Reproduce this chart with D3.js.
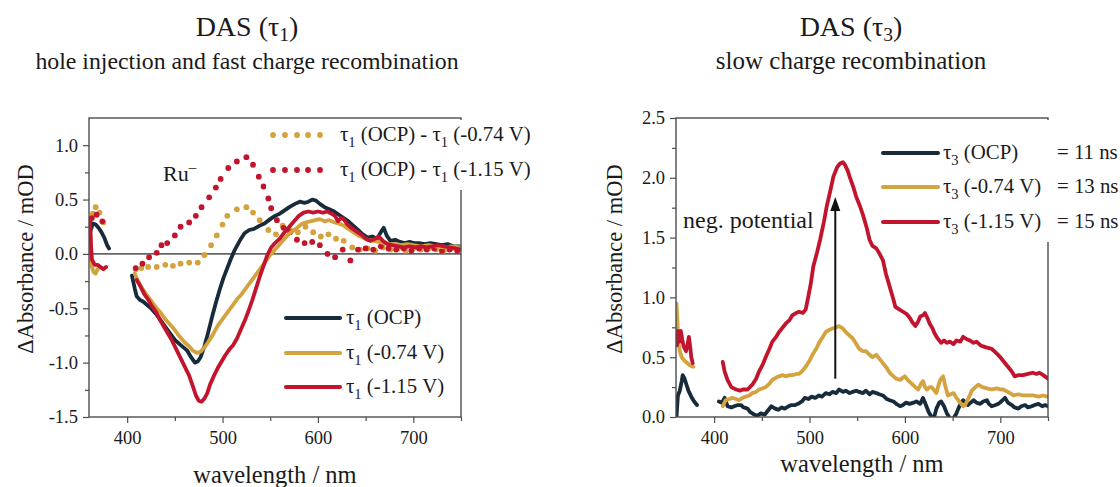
<!DOCTYPE html>
<html>
<head>
<meta charset="utf-8">
<script src="https://cdn.jsdelivr.net/npm/d3@7"></script>
<style>
body { margin: 0; background: #fff; }
text { font-family: "Liberation Serif", "DejaVu Serif", serif; fill: #1a1a1a; }
</style>
</head>
<body>
<div id="chart"></div>
<script>
// ---- data: left panel, DAS tau1 (wavelength nm, mOD) ----
var t1_ocp_a = [[362,0.22],[364,0.28],[367,0.27],[370,0.24],[373,0.2],[376,0.15],[379,0.08],[381,0.05]];
var t1_ocp_b = [[405,-0.2],[408,-0.32],[410,-0.39],[413,-0.42],[417,-0.44],[421,-0.47],[425,-0.5],[430,-0.55],[435,-0.61],[440,-0.67],[445,-0.73],[450,-0.79],[455,-0.83],[459,-0.86],[463,-0.89],[467,-0.95],[471,-1.0],[474,-0.99],[477,-0.95],[481,-0.85],[485,-0.72],[489,-0.58],[493,-0.45],[497,-0.33],[501,-0.22],[505,-0.13],[509,-0.04],[513,0.04],[518,0.12],[523,0.19],[528,0.22],[533,0.23],[539,0.26],[544,0.28],[550,0.32],[555,0.35],[560,0.37],[565,0.4],[570,0.43],[576,0.46],[581,0.48],[586,0.47],[590,0.48],[594,0.5],[598,0.49],[602,0.46],[607,0.43],[612,0.41],[617,0.39],[622,0.36],[627,0.33],[632,0.3],[637,0.26],[642,0.22],[647,0.18],[652,0.15],[657,0.16],[662,0.14],[666,0.2],[669,0.24],[672,0.17],[676,0.12],[681,0.13],[686,0.11],[691,0.1],[696,0.11],[701,0.1],[706,0.1],[712,0.09],[718,0.1],[724,0.09],[730,0.08],[736,0.09],[742,0.07],[750,0.07]];
var t1_074_a = [[361,0.3],[362,0.05],[363,-0.12],[365,-0.17],[367,-0.18],[369,-0.14],[371,-0.12]];
var t1_074_b = [[408,-0.18],[412,-0.26],[416,-0.32],[420,-0.37],[425,-0.43],[430,-0.49],[435,-0.54],[440,-0.6],[445,-0.65],[450,-0.7],[455,-0.76],[460,-0.81],[465,-0.85],[469,-0.89],[473,-0.91],[477,-0.9],[481,-0.86],[485,-0.81],[490,-0.74],[495,-0.66],[500,-0.6],[505,-0.54],[510,-0.48],[515,-0.42],[520,-0.37],[525,-0.31],[530,-0.25],[535,-0.19],[540,-0.13],[545,-0.07],[549,-0.02],[553,0.02],[557,0.06],[562,0.11],[567,0.16],[572,0.2],[577,0.23],[582,0.27],[587,0.29],[592,0.3],[597,0.31],[602,0.32],[607,0.3],[612,0.31],[617,0.29],[622,0.28],[627,0.26],[632,0.23],[637,0.2],[642,0.17],[647,0.15],[652,0.13],[658,0.12],[664,0.11],[670,0.1],[676,0.09],[682,0.09],[688,0.08],[694,0.09],[700,0.08],[708,0.07],[716,0.08],[724,0.07],[732,0.06],[740,0.07],[750,0.06]];
var t1_115_a = [[361,0.33],[362,0.1],[363,-0.05],[366,-0.1],[369,-0.1],[372,-0.12],[375,-0.14],[378,-0.12]];
var t1_115_b = [[410,-0.24],[414,-0.3],[418,-0.37],[422,-0.42],[426,-0.48],[430,-0.53],[434,-0.6],[438,-0.66],[442,-0.72],[446,-0.78],[450,-0.85],[455,-0.94],[460,-1.03],[465,-1.12],[469,-1.22],[472,-1.3],[475,-1.35],[478,-1.36],[481,-1.33],[484,-1.28],[487,-1.2],[491,-1.12],[495,-1.05],[499,-0.99],[503,-0.93],[507,-0.88],[511,-0.84],[515,-0.78],[519,-0.7],[523,-0.62],[527,-0.53],[531,-0.43],[535,-0.32],[539,-0.21],[543,-0.11],[547,-0.01],[551,0.06],[555,0.1],[560,0.14],[565,0.2],[570,0.25],[575,0.3],[580,0.35],[585,0.38],[590,0.39],[595,0.38],[600,0.39],[605,0.38],[610,0.39],[614,0.37],[618,0.35],[621,0.3],[624,0.33],[627,0.32],[631,0.27],[635,0.24],[640,0.21],[645,0.18],[650,0.14],[655,0.12],[660,0.14],[664,0.16],[668,0.12],[673,0.09],[678,0.08],[684,0.07],[690,0.06],[696,0.07],[702,0.06],[708,0.07],[714,0.06],[720,0.07],[726,0.08],[732,0.07],[738,0.06],[744,0.05],[750,0.04]];
// difference spectra (dotted)
var diff_074 = [[364,0.37],[367,0.43],[371,0.38],[375,0.29],[409,-0.14],[415,-0.13],[422,-0.12],[431,-0.12],[440,-0.1],[448,-0.11],[456,-0.09],[465,-0.08],[474,-0.08],[481,-0.01],[488,0.08],[494,0.17],[500,0.27],[505,0.35],[515,0.41],[525,0.43],[532,0.38],[539,0.31],[548,0.22],[556,0.18],[563,0.26],[571,0.22],[579,0.2],[587,0.25],[595,0.2],[603,0.16],[611,0.18],[619,0.14],[627,0.12],[636,0.06],[644,0.04],[652,0.05],[660,0.03],[668,0.06],[676,0.04],[684,0.05],[692,0.03],[700,0.05],[708,0.04],[716,0.05],[724,0.04],[732,0.03],[740,0.05],[748,0.04]];
var diff_115 = [[363,0.33],[368,0.36],[374,0.3],[409,-0.13],[416,-0.09],[423,-0.03],[431,0.01],[436,0.08],[442,0.1],[450,0.17],[456,0.25],[465,0.29],[472,0.35],[478,0.43],[486,0.52],[493,0.61],[498,0.69],[506,0.79],[515,0.85],[525,0.89],[532,0.82],[538,0.71],[543,0.62],[548,0.51],[551,0.42],[557,0.31],[564,0.24],[571,0.2],[578,0.13],[586,0.1],[594,0.11],[602,0.08],[610,0.0],[618,-0.03],[626,0.04],[634,-0.06],[642,0.04],[650,0.05],[658,0.04],[666,0.07],[674,0.05],[682,0.04],[690,0.05],[698,0.03],[706,0.05],[714,0.04],[722,0.05],[730,0.03],[738,0.04],[746,0.03]];

// ---- data: right panel, DAS tau3 ----
var t3_ocp_a = [[360.5,0.0],[362,0.18],[364,0.22],[366,0.3],[367,0.35],[369,0.32],[371,0.27],[373,0.22],[376,0.17],[379,0.13],[382,0.1]];
var t3_ocp_b = [[405,0.13],[408,0.12],[411,0.16],[414,0.09],[418,0.08],[421,0.09],[425,0.1],[428,0.1],[431,0.08],[435,0.07],[438,0.04],[442,0.02],[445,0.01],[449,0.03],[453,0.02],[456,0.05],[460,0.09],[464,0.07],[467,0.06],[471,0.08],[474,0.07],[478,0.09],[481,0.1],[485,0.1],[488,0.11],[492,0.13],[495,0.16],[499,0.15],[502,0.17],[506,0.16],[510,0.18],[513,0.17],[517,0.2],[521,0.19],[524,0.21],[528,0.2],[531,0.23],[535,0.21],[538,0.22],[542,0.2],[545,0.21],[549,0.22],[552,0.21],[556,0.2],[559,0.22],[563,0.19],[566,0.21],[570,0.2],[573,0.19],[577,0.18],[581,0.15],[584,0.14],[588,0.13],[591,0.11],[595,0.09],[598,0.1],[601,0.12],[605,0.11],[609,0.12],[612,0.13],[616,0.11],[619,0.16],[622,0.1],[625,0.04],[628,0.0],[630,-0.02],[633,0.07],[636,0.12],[638,0.13],[641,0.09],[644,0.03],[648,-0.02],[651,-0.01],[654,0.03],[656,0.07],[659,0.12],[661,0.14],[664,0.12],[666,0.1],[669,0.12],[672,0.14],[675,0.12],[679,0.11],[682,0.13],[686,0.14],[688,0.11],[691,0.09],[695,0.1],[698,0.11],[701,0.13],[705,0.16],[708,0.12],[712,0.1],[715,0.08],[719,0.07],[722,0.09],[726,0.1],[729,0.08],[733,0.09],[736,0.1],[740,0.11],[744,0.09],[747,0.1],[750,0.09]];
var t3_074_a = [[360.5,0.95],[361.5,0.8],[362.5,0.62],[364,0.55],[366,0.5],[369,0.47],[372,0.45],[375,0.43],[378,0.42]];
var t3_074_b = [[409,0.09],[412,0.14],[416,0.15],[419,0.16],[423,0.15],[426,0.14],[430,0.16],[433,0.17],[437,0.18],[440,0.2],[444,0.21],[447,0.23],[451,0.24],[454,0.25],[458,0.28],[461,0.31],[465,0.33],[468,0.34],[472,0.35],[475,0.34],[479,0.35],[482,0.35],[486,0.36],[489,0.36],[493,0.39],[496,0.42],[500,0.47],[503,0.52],[507,0.57],[510,0.62],[514,0.67],[517,0.71],[521,0.73],[524,0.74],[528,0.75],[531,0.76],[535,0.74],[538,0.71],[542,0.68],[545,0.66],[549,0.61],[552,0.57],[556,0.55],[559,0.55],[563,0.52],[566,0.5],[570,0.52],[574,0.48],[577,0.45],[581,0.41],[584,0.37],[588,0.34],[591,0.32],[595,0.31],[598,0.33],[600,0.34],[604,0.3],[607,0.28],[611,0.25],[614,0.23],[617,0.28],[619,0.3],[621,0.25],[623,0.23],[626,0.25],[628,0.25],[631,0.22],[633,0.2],[635,0.26],[637,0.31],[640,0.34],[642,0.27],[645,0.18],[648,0.19],[651,0.2],[654,0.16],[656,0.14],[659,0.11],[661,0.09],[663,0.1],[665,0.13],[668,0.18],[670,0.22],[674,0.25],[677,0.27],[681,0.25],[686,0.24],[691,0.23],[696,0.24],[700,0.23],[703,0.23],[708,0.21],[714,0.18],[719,0.19],[724,0.18],[730,0.18],[735,0.18],[740,0.17],[745,0.18],[749,0.17]];
var t3_115_a = [[361,0.6],[362,0.72],[363.5,0.63],[365,0.72],[366.5,0.65],[368,0.59],[370.5,0.55],[372,0.6],[373.5,0.67],[375,0.58],[376,0.5],[377.5,0.45]];
var t3_115_b = [[409,0.46],[411,0.38],[414,0.31],[418,0.25],[423,0.23],[427,0.22],[430,0.23],[435,0.23],[440,0.27],[444,0.32],[447,0.38],[451,0.44],[454,0.5],[458,0.57],[461,0.63],[465,0.67],[468,0.71],[472,0.75],[475,0.78],[479,0.81],[482,0.85],[486,0.87],[489,0.88],[493,0.87],[496,0.9],[499,1.02],[501,1.1],[504,1.26],[508,1.38],[511,1.48],[515,1.63],[518,1.76],[522,1.9],[525,2.01],[529,2.09],[532,2.12],[535,2.13],[537,2.11],[540,2.06],[542,2.01],[546,1.92],[549,1.84],[553,1.76],[556,1.69],[560,1.58],[563,1.48],[566,1.43],[570,1.41],[573,1.37],[577,1.31],[580,1.2],[584,1.09],[588,0.98],[590,0.92],[594,0.9],[598,0.88],[602,0.86],[605,0.83],[608,0.79],[611,0.76],[614,0.8],[616,0.84],[619,0.85],[621,0.87],[624,0.82],[626,0.78],[629,0.74],[631,0.7],[634,0.66],[638,0.62],[641,0.64],[644,0.62],[647,0.63],[651,0.61],[654,0.64],[658,0.63],[661,0.67],[665,0.65],[668,0.64],[672,0.62],[675,0.63],[679,0.6],[682,0.59],[686,0.58],[691,0.57],[695,0.54],[700,0.5],[704,0.46],[708,0.42],[712,0.38],[715,0.34],[719,0.35],[724,0.35],[729,0.36],[734,0.37],[738,0.36],[741,0.37],[745,0.35],[750,0.32]];

// axis ticks
var xMajor = [400, 500, 600, 700];
var xMinor = [450, 550, 650, 750];
var yMajorL = [-1.5, -1.0, -0.5, 0.0, 0.5, 1.0];
var yMinorL = [-1.25, -0.75, -0.25, 0.25, 0.75];
var yMajorR = [0.0, 0.5, 1.0, 1.5, 2.0, 2.5];
var yMinorR = [0.25, 0.75, 1.25, 1.75, 2.25];

var navy = "#172b3b", gold = "#d4a23e", red = "#c2142c", axisCol = "#4d4d4d";
var legSize = 20.8;

var svg = d3.select("#chart")
  .append("svg")
  .attr("width", 1120)
  .attr("height", 487);

// sets up one panel: scales, ticks, clip
function panel(id, box, yDomain, yMajor, yMinor) {
  var x = d3.scaleLinear().domain([360, 750]).range([box.left, box.right]);
  var y = d3.scaleLinear().domain(yDomain).range([box.bottom, box.top]);

  svg.append("clipPath").attr("id", "clip" + id)
    .append("rect")
    .attr("x", box.left).attr("y", box.top)
    .attr("width", box.right - box.left).attr("height", box.bottom - box.top);

  var fmt = function(d) { return d.toFixed(1); };

  var gx = svg.append("g")
    .attr("transform", "translate(0," + box.bottom + ")")
    .style("font-size", "18.5px")
    .call(d3.axisBottom(x).tickValues(xMajor).tickSize(6).tickPadding(8).tickFormat(d3.format("d")));
  gx.select(".domain").remove();
  var gx2 = svg.append("g")
    .attr("transform", "translate(0," + box.bottom + ")")
    .call(d3.axisBottom(x).tickValues(xMinor).tickSize(4).tickFormat(""));
  gx2.select(".domain").remove();

  var gy = svg.append("g")
    .attr("transform", "translate(" + box.left + ",0)")
    .style("font-size", "18.5px")
    .call(d3.axisLeft(y).tickValues(yMajor).tickSize(6).tickPadding(5).tickFormat(fmt));
  gy.select(".domain").remove();
  var gy2 = svg.append("g")
    .attr("transform", "translate(" + box.left + ",0)")
    .call(d3.axisLeft(y).tickValues(yMinor).tickSize(4).tickFormat(""));
  gy2.select(".domain").remove();

  svg.selectAll(".tick line").attr("stroke", axisCol).attr("stroke-width", 1.2);
  svg.selectAll(".tick text").attr("fill", "#1a1a1a").style("font-family", "'Liberation Serif', serif");

  return {x: x, y: y, clip: "url(#clip" + id + ")", box: box};
}

function frame(p) {
  svg.append("rect")
    .attr("x", p.box.left).attr("y", p.box.top)
    .attr("width", p.box.right - p.box.left)
    .attr("height", p.box.bottom - p.box.top)
    .attr("fill", "none")
    .attr("stroke", axisCol)
    .attr("stroke-width", 1.4);
}

function drawLine(p, data, color) {
  var line = d3.line()
    .x(function(d) { return p.x(d[0]); })
    .y(function(d) { return p.y(d[1]); });
  svg.append("path")
    .datum(data)
    .attr("clip-path", p.clip)
    .attr("d", line)
    .attr("fill", "none")
    .attr("stroke", color)
    .attr("stroke-width", 3.8)
    .attr("stroke-linejoin", "round")
    .attr("stroke-linecap", "round");
}

function drawDots(p, data, color) {
  svg.append("g")
    .attr("clip-path", p.clip)
    .selectAll("circle")
    .data(data)
    .enter()
    .append("circle")
    .attr("cx", function(d) { return p.x(d[0]); })
    .attr("cy", function(d) { return p.y(d[1]); })
    .attr("r", 2.9)
    .attr("fill", color);
}

// tau with subscript, then the rest
function tauText(sel, sub, rest, size, shift) {
  var s = size * (shift || 0.28);
  sel.append("tspan").text("\u03c4");
  sel.append("tspan").attr("dy", s).style("font-size", (size * 0.7) + "px").text(sub);
  sel.append("tspan").attr("dy", -s).text(rest);
  return sel;
}
function label(x, y, size) {
  return svg.append("text").attr("x", x).attr("y", y).style("font-size", size + "px");
}

// ================= left panel =================
var L = panel("L", {left: 89, right: 461, top: 118, bottom: 417}, [-1.5, 1.25], yMajorL, yMinorL);

// zero line
svg.append("line")
  .attr("x1", L.x(360)).attr("x2", L.x(750))
  .attr("y1", L.y(0)).attr("y2", L.y(0))
  .attr("stroke", "#666").attr("stroke-width", 1.6);

drawDots(L, diff_074, gold);
drawDots(L, diff_115, red);
drawLine(L, t1_ocp_a, navy);
drawLine(L, t1_ocp_b, navy);
drawLine(L, t1_074_a, gold);
drawLine(L, t1_074_b, gold);
drawLine(L, t1_115_a, red);
drawLine(L, t1_115_b, red);
frame(L);

// legend box sits over the right frame edge
svg.append("rect").attr("x", 266).attr("y", 120).attr("width", 274).attr("height", 70).attr("fill", "#fff");
[[gold, 135, " (-0.74 V)"], [red, 170, " (-1.15 V)"]].forEach(function(r) {
  svg.append("g").selectAll("circle")
    .data([273, 285, 297, 308, 320])
    .enter().append("circle")
    .attr("cx", function(d) { return d; })
    .attr("cy", r[1]).attr("r", 2.9).attr("fill", r[0]);
  var t = tauText(label(340, r[1] + 6, legSize), "1", " (OCP) - ", legSize);
  tauText(t, "1", r[2], legSize);
});

[[navy, 318, " (OCP)"], [gold, 353, " (-0.74 V)"], [red, 387, " (-1.15 V)"]].forEach(function(r) {
  svg.append("line").attr("x1", 286).attr("x2", 340).attr("y1", r[1]).attr("y2", r[1])
    .attr("stroke", r[0]).attr("stroke-width", 4).attr("stroke-linecap", "round");
  tauText(label(346, r[1] + 6, legSize), "1", r[2], legSize);
});

var ru = label(163, 181, 22);
ru.append("tspan").text("Ru");
ru.append("tspan").attr("dy", -9).style("font-size", "15px").text("\u2013");

// titles
var tl = svg.append("text").attr("x", 247).attr("y", 36).attr("text-anchor", "middle").style("font-size", "28px");
tauText(tl.append("tspan").text("DAS ("), "1", ")", 28, 0.18);
svg.append("text").attr("x", 247).attr("y", 69).attr("text-anchor", "middle").style("font-size", "23.8px")
  .text("hole injection and fast charge recombination");

svg.append("text").attr("x", 275).attr("y", 483).attr("text-anchor", "middle").style("font-size", "24.5px")
  .text("wavelength / nm");
svg.append("text").attr("transform", "translate(33,259) rotate(-90)").attr("text-anchor", "middle").style("font-size", "22.5px")
  .text("\u0394Absorbance / mOD");

// ================= right panel =================
var R = panel("R", {left: 676, right: 1048, top: 118, bottom: 417}, [0, 2.5], yMajorR, yMinorR);

drawLine(R, t3_ocp_a, navy);
drawLine(R, t3_ocp_b, navy);
drawLine(R, t3_074_a, gold);
drawLine(R, t3_074_b, gold);
drawLine(R, t3_115_a, red);
drawLine(R, t3_115_b, red);
frame(R);

// arrow "neg. potential"
var ax = R.x(527);
svg.append("line").attr("x1", ax).attr("x2", ax).attr("y1", R.y(0.32)).attr("y2", R.y(1.78))
  .attr("stroke", "#111").attr("stroke-width", 2);
svg.append("path")
  .attr("d", "M" + ax + "," + R.y(1.84) + " L" + (ax - 5) + "," + (R.y(1.84) + 14) + " L" + (ax + 5) + "," + (R.y(1.84) + 14) + " Z")
  .attr("fill", "#111");
label(683, 228, 24).text("neg. potential");

svg.append("rect").attr("x", 876).attr("y", 120).attr("width", 244).attr("height", 122).attr("fill", "#fff");
[[navy, 153, " (OCP)", "= 11 ns"], [gold, 187, " (-0.74 V)", "= 13 ns"], [red, 222, " (-1.15 V)", "= 15 ns"]].forEach(function(r) {
  svg.append("line").attr("x1", 883).attr("x2", 938).attr("y1", r[1]).attr("y2", r[1])
    .attr("stroke", r[0]).attr("stroke-width", 4).attr("stroke-linecap", "round");
  tauText(label(943, r[1] + 6, legSize), "3", r[2], legSize);
  label(1057, r[1] + 6, legSize).text(r[3]);
});

var tr = svg.append("text").attr("x", 851).attr("y", 36).attr("text-anchor", "middle").style("font-size", "28px");
tauText(tr.append("tspan").text("DAS ("), "3", ")", 28, 0.18);
svg.append("text").attr("x", 851).attr("y", 69).attr("text-anchor", "middle").style("font-size", "25px")
  .text("slow charge recombination");

svg.append("text").attr("x", 862).attr("y", 472).attr("text-anchor", "middle").style("font-size", "24.5px")
  .text("wavelength / nm");
svg.append("text").attr("transform", "translate(622,259) rotate(-90)").attr("text-anchor", "middle").style("font-size", "22.5px")
  .text("\u0394Absorbance / mOD");
</script>
</body>
</html>
